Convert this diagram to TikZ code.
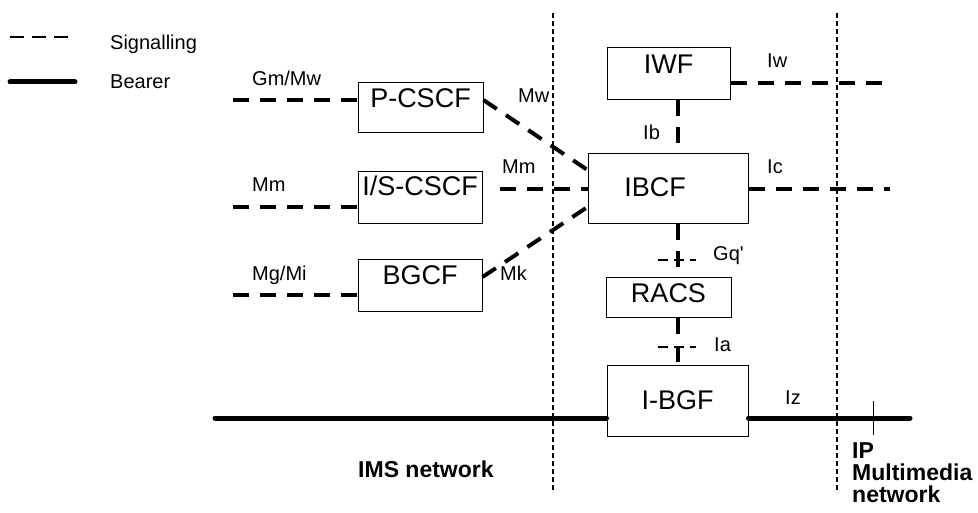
\documentclass[tikz,border=0pt]{standalone}
\usepackage{fontspec}
\setmainfont{Liberation Sans}
\usetikzlibrary{positioning,calc}

\begin{document}
\begin{tikzpicture}[x=1pt, y=-1pt,
        block/.style={draw, rectangle, line width=1pt, inner sep=0pt, anchor=base, font=\fontsize{27}{32}\selectfont},
        lbl/.style={anchor=base west, inner sep=0pt, font=\fontsize{20}{24}\selectfont},
        netlbl/.style={anchor=base west, inner sep=0pt, align=left, font=\fontsize{23}{22}\selectfont\bfseries},
        sig/.style={line width=4pt, dash pattern=on 16pt off 11pt},
        sigthin/.style={line width=2.5pt, dash pattern=on 10pt off 6pt},
        bearer/.style={line width=5pt, line cap=round},
        border/.style={line width=2pt, dash pattern=on 5pt off 3pt}
    ]
        \useasboundingbox (0,0) rectangle (978,513);

        % legend
        \coordinate (sga) at (10,37);
        \coordinate (sgb) at (68,37);
        \draw [line width=1.5pt, dash pattern=on 14pt off 8pt] (sga) -- (sgb);
        \node [lbl] (sigtxt) at (110,50) {Signalling};
        \coordinate (bra) at (10,82);
        \coordinate (brb) at (75,82);
        \draw [bearer] (bra) -- (brb);
        \node [lbl] (beartxt) at (110,89) {Bearer};

        % network borders
        \coordinate (imstop) at (553,13);
        \coordinate (imsbot) at (553,490);
        \coordinate (ipmtop) at (837,13);
        \coordinate (ipmbot) at (837,490);
        \draw [border] (imstop) -- (imsbot);
        \draw [border] (ipmtop) -- (ipmbot);

        % functional blocks
        \node [block, minimum width=125pt, text height=25pt, text depth=25pt] (pcscf) at (420.5,108) {P-CSCF};
        \node [block, minimum width=124pt, text height=24pt, text depth=28pt] (iscscf) at (420,196) {I/S-CSCF};
        \node [block, minimum width=124pt, text height=25pt, text depth=27pt] (bgcf) at (420,285) {BGCF};
        \node [block, minimum width=123pt, text height=26pt, text depth=26pt] (iwf) at (668.5,74) {IWF};
        \node [block, minimum width=160pt, text height=43pt, text depth=27pt] (ibcf) at (668,197) {IBCF\hspace*{26pt}};
        \node [block, minimum width=125pt, text height=25pt, text depth=15pt] (racs) at (668.5,303) {RACS};
        \node [block, minimum width=141pt, text height=44pt, text depth=27pt] (ibgf) at (677.5,409) {I-BGF};

        % signalling
        \coordinate (gmw) at (233,100);
        \coordinate (mml) at (233,207);
        \coordinate (mgi) at (233,295);
        \coordinate (mmr) at (500,189);
        \coordinate (iwo) at (885,83);
        \coordinate (ico) at (890,189);
        \draw [sig] (gmw) -- (gmw -| pcscf.west);
        \draw [sig] (mml) -- (mml -| iscscf.west);
        \draw [sig] (mgi) -- (mgi -| bgcf.west);
        \draw [sig] ([yshift=8pt]pcscf.east) -- ([yshift=19pt]ibcf.west);
        \draw [sig] (mmr) -- (ibcf.west);
        \draw [sig] ([yshift=9pt]bgcf.east) -- ([yshift=-18pt]ibcf.west);
        \draw [sig] (iwf.east |- iwo) -- (iwo);
        \draw [sig] (ibcf.east) -- (ico);
        \draw [sig] (iwf.south -| ibgf.north) -- (ibcf.north -| ibgf.north);
        \draw [sig] (ibcf.south -| ibgf.north) -- (racs.north -| ibgf.north);
        \draw [sig] (racs.south -| ibgf.north) -- (ibgf.north);

        \coordinate (gqa) at (658,260);
        \coordinate (gqb) at (696,260);
        \coordinate (iaa) at (658,347);
        \coordinate (iab) at (696,347);
        \draw [sigthin] (gqa) -- (gqb);
        \draw [sigthin] (iaa) -- (iab);

        % bearer
        \coordinate (bin) at (215,418);
        \coordinate (bout) at (910,418);
        \draw [bearer] (bin) -- (bin -| ibgf.west);
        \draw [bearer] (ibgf.east |- bout) -- (bout);
        \coordinate (tka) at (873,401);
        \coordinate (tkb) at (873,435);
        \draw [line width=1pt] (tka) -- (tkb);

        % reference point labels
        \node [lbl] (gmwl) at (252,86) {Gm/Mw};
        \node [lbl] (mmll) at (252,192) {Mm};
        \node [lbl] (mgil) at (252,281) {Mg/Mi};
        \node [lbl] (mwl) at (518,103) {Mw};
        \node [lbl] (mmrl) at (502,174) {Mm};
        \node [lbl] (mkl) at (500,281) {Mk};
        \node [lbl] (iwl) at (767,68) {Iw};
        \node [lbl] (icl) at (767,174) {Ic};
        \node [lbl] (ibl) at (643,140) {Ib};
        \node [lbl] (gql) at (713,261) {Gq\textquotesingle};
        \node [lbl] (ial) at (714,352) {Ia};
        \node [lbl] (izl) at (785,404) {Iz};
        \node [netlbl] (imsl) at (358,477) {IMS network};
        \node [netlbl] (ipml) at (852,502) {IP\\Multimedia\\network};

    \end{tikzpicture}
\end{document}
